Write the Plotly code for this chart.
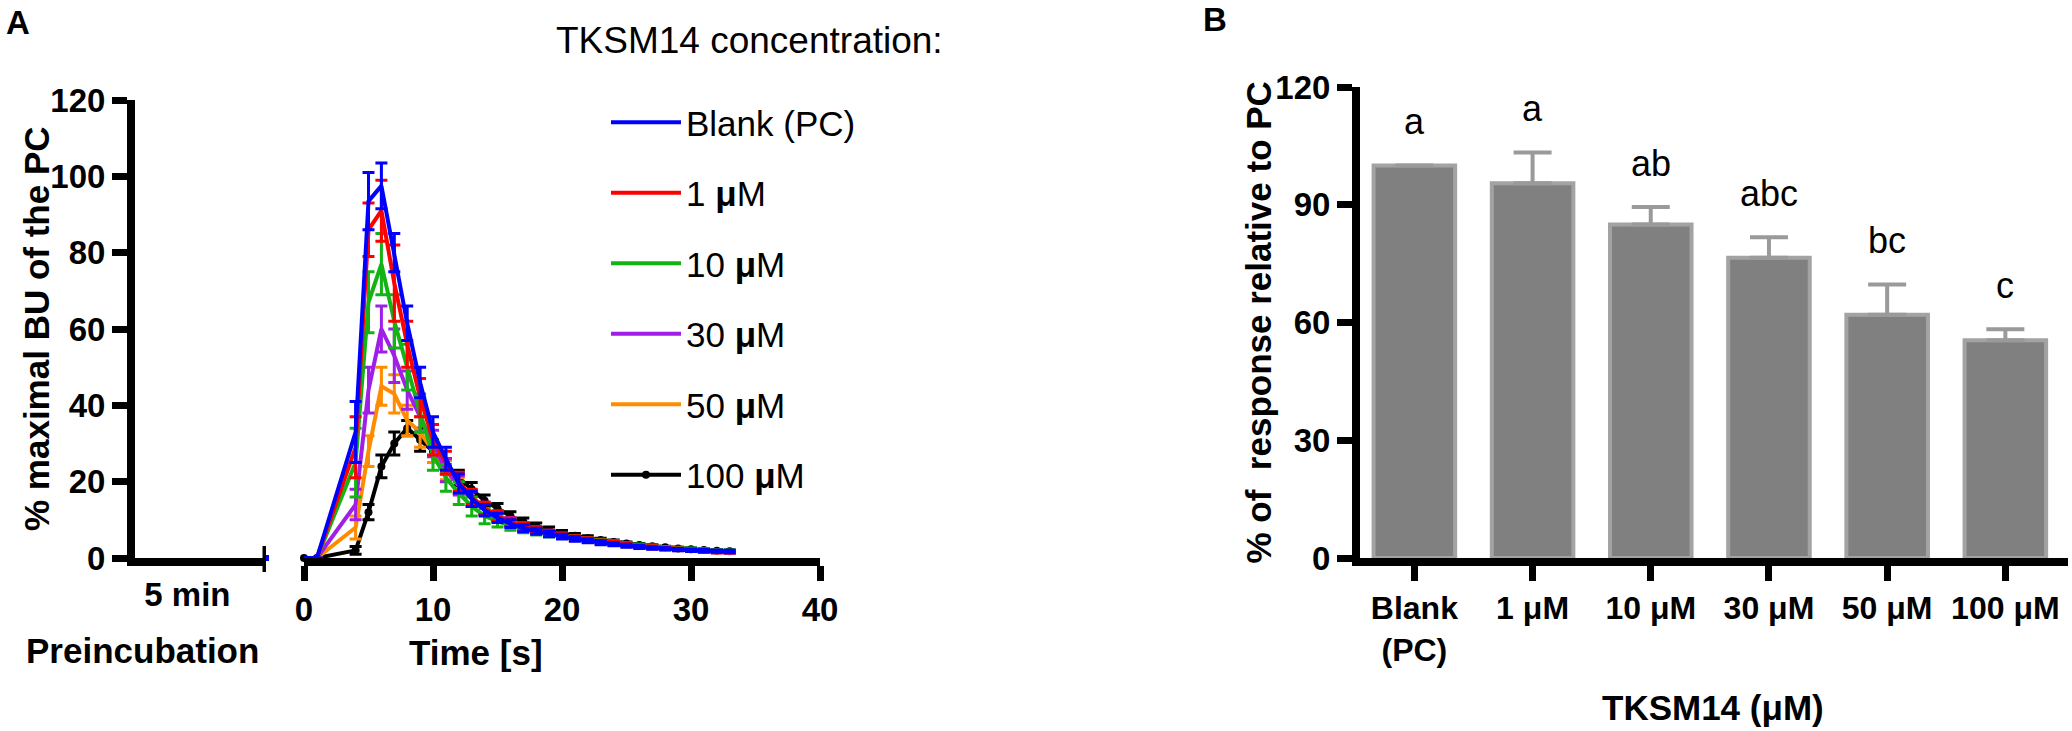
import plotly.graph_objects as go

W, H = 2072, 731
FONT = "Liberation Sans, Arial, sans-serif"

# ---------------- Panel A data ----------------
time_s = [0, 1, 4, 5, 6, 7, 8, 9, 10, 11, 12, 13, 14, 15, 16, 17, 18, 19,
          20, 21, 22, 23, 24, 25, 26, 27, 28, 29, 30, 31, 32, 33]

series_names = ["Blank (PC)", "1 <b>μ</b>M", "10 <b>μ</b>M", "30 <b>μ</b>M",
                "50 <b>μ</b>M", "100 <b>μ</b>M"]
series_colors = ["#0000ff", "#ff0000", "#12b312", "#a01ee6", "#ff8c00", "#000000"]

blank_mean = [0, 0, 33, 93.5, 97.5, 80, 61.5, 46, 33, 26, 19.5, 15.5, 12.5, 10.5, 9, 7.8,
              7, 6.3, 5.6, 5, 4.5, 4, 3.6, 3.2, 2.9, 2.6, 2.4, 2.2, 2, 1.9, 1.8, 1.7]
blank_err = [0, 0, 8, 7.5, 6, 5, 4.5, 4, 4, 3, 2.5, 2, 1.5, 1.2, 1, 0.9,
             0.8, 0.7, 0.6, 0.6, 0.5, 0.5, 0.4, 0.4, 0.4, 0.3, 0.3, 0.3, 0.3, 0.3, 0.3, 0.3]

um1_mean = [0, 0, 29, 86, 91, 72, 56, 42, 31, 25, 20, 16, 13, 11, 9.4, 8.2,
            7.3, 6.5, 5.8, 5.2, 4.7, 4.2, 3.8, 3.4, 3.1, 2.8, 2.5, 2.3, 2.1, 1.9, 1.7, 1.6]
um1_err = [0, 0, 8, 7, 8, 10, 6, 5, 4, 3, 2.5, 2, 1.6, 1.3, 1.1, 1,
           0.9, 0.8, 0.7, 0.6, 0.6, 0.5, 0.5, 0.4, 0.4, 0.4, 0.3, 0.3, 0.3, 0.3, 0.3, 0.3]

um10_mean = [0, 0, 25, 67, 77, 62, 50, 38, 27, 21, 17, 13.5, 11, 9.6, 8.5, 7.6,
             6.9, 6.3, 5.8, 5.3, 4.8, 4.4, 4, 3.6, 3.3, 3, 2.7, 2.5, 2.3, 2.1, 1.9, 1.8]
um10_err = [0, 0, 9, 8, 8, 7, 6, 5, 4, 3.5, 3, 2.5, 2, 1.5, 1.2, 1,
            0.9, 0.8, 0.7, 0.6, 0.6, 0.5, 0.5, 0.4, 0.4, 0.4, 0.3, 0.3, 0.3, 0.3, 0.3, 0.3]

um30_mean = [0, 0, 14, 44, 60, 53, 44, 37, 30, 23, 19, 15.5, 13, 11, 9.5, 8.3,
             7.3, 6.5, 5.8, 5.2, 4.7, 4.2, 3.8, 3.4, 3.1, 2.8, 2.5, 2.3, 2.1, 1.9, 1.7, 1.6]
um30_err = [0, 0, 4, 6, 6, 7, 5, 4, 3.5, 3, 2.5, 2, 1.6, 1.3, 1.1, 1,
            0.9, 0.8, 0.7, 0.6, 0.6, 0.5, 0.5, 0.4, 0.4, 0.4, 0.3, 0.3, 0.3, 0.3, 0.3, 0.3]

um50_mean = [0, 0, 8, 28, 45, 43, 36, 33, 28, 23, 19, 16, 13, 11, 9.5, 8.2,
             7.2, 6.4, 5.7, 5.1, 4.6, 4.1, 3.7, 3.3, 3, 2.7, 2.4, 2.2, 2, 1.8, 1.6, 1.5]
um50_err = [0, 0, 3, 4, 5, 5, 4, 4, 3, 2.5, 2, 1.8, 1.5, 1.2, 1, 0.9,
            0.8, 0.7, 0.6, 0.6, 0.5, 0.5, 0.4, 0.4, 0.4, 0.3, 0.3, 0.3, 0.3, 0.3, 0.3, 0.3]

um100_mean = [0, 0, 2, 12, 24, 30, 34, 31, 28, 24, 21, 18, 15, 13, 11, 9.5,
              8.3, 7.3, 6.5, 5.8, 5.2, 4.7, 4.2, 3.8, 3.4, 3.1, 2.8, 2.5, 2.3, 2.1, 1.9, 1.8]
um100_err = [0, 0, 1, 2, 3, 3, 2, 3, 3, 2, 2, 1.8, 1.5, 1.3, 1.1, 1,
             0.9, 0.8, 0.7, 0.6, 0.6, 0.5, 0.5, 0.4, 0.4, 0.4, 0.3, 0.3, 0.3, 0.3, 0.3, 0.3]

series_means = [blank_mean, um1_mean, um10_mean, um30_mean, um50_mean, um100_mean]
series_errs = [blank_err, um1_err, um10_err, um30_err, um50_err, um100_err]

pre_time = [-3]
pre_value = [0]

a_yticks = [0, 20, 40, 60, 80, 100, 120]
a_xticks = [0, 10, 20, 30, 40]
pre_tick = [-9]
pre_tick_text = ["5 min"]

# ---------------- Panel B data ----------------
b_categories = ["Blank<br>(PC)", "1 μM", "10 μM", "30 μM", "50 μM", "100 μM"]
b_values = [100, 95.5, 85, 76.5, 62, 55.5]
b_errors = [None, 7.8, 4.4, 5.2, 7.7, 2.8]
b_letters = ["a", "a", "ab", "abc", "bc", "c"]
b_yticks = [0, 30, 60, 90, 120]

# ---------------- Layout geometry ----------------
def px_x(x):
    return x / W

def px_y(y):
    return 1 - y / H

A_Y = [px_y(558), px_y(100)]
A_PRE_X = [px_x(135), px_x(266)]
A_MAIN_X = [px_x(304), px_x(820)]
B_X = [px_x(1360), px_x(2068)]
B_Y = [px_y(558), px_y(87)]

TICKFONT = dict(family=FONT, size=33, color="black", weight="bold")
AXIS_LW = 8
TICK_W = 7
TICK_LEN = 15

fig = go.Figure()

# Panel A curves (drawn so Blank ends on top)
for rank, (name, color, mean, err) in reversed(list(enumerate(zip(
        series_names, series_colors, series_means, series_errs)))):
    is_black = color == "#000000"
    fig.add_trace(go.Scatter(
        x=time_s, y=mean, name=name, legendgroup=name, legendrank=rank + 1,
        mode="lines+markers" if is_black else "lines",
        line=dict(color=color, width=4),
        marker=dict(color=color, size=8, symbol="circle"),
        error_y=dict(type="data", array=err, color=color, thickness=3, width=6),
        xaxis="x2", yaxis="y", cliponaxis=False,
    ))

# preincubation point
fig.add_trace(go.Scatter(
    x=pre_time, y=pre_value, mode="markers", showlegend=False,
    marker=dict(color="#0000ff", size=6, symbol="square"),
    xaxis="x", yaxis="y", cliponaxis=False,
))

# Panel B bars
fig.add_trace(go.Bar(
    x=list(range(len(b_categories))), y=b_values, width=0.69, showlegend=False,
    marker=dict(color="#808080", line=dict(color="#a3a3a3", width=4)),
    error_y=dict(type="data", symmetric=False, array=b_errors,
                 arrayminus=[0] * len(b_values), color="#9a9a9a",
                 thickness=4, width=19),
    xaxis="x3", yaxis="y2",
))

annotations = []
LETTER_OFFSET = 5.5
for i, (v, e, letter) in enumerate(zip(b_values, b_errors, b_letters)):
    top = v + (e if e else 0)
    annotations.append(dict(
        x=i, y=top + LETTER_OFFSET, xref="x3", yref="y2", text=letter,
        showarrow=False, yanchor="bottom",
        font=dict(family=FONT, size=36, color="black")))

# Panel letters & titles
annotations += [
    dict(x=px_x(4), y=px_y(22), xref="paper", yref="paper", text="<b>A</b>",
         showarrow=False, xanchor="left", yanchor="middle",
         font=dict(family=FONT, size=33, color="black")),
    dict(x=px_x(1215), y=px_y(20), xref="paper", yref="paper", text="<b>B</b>",
         showarrow=False, xanchor="center", yanchor="middle",
         font=dict(family=FONT, size=33, color="black")),
    dict(x=px_x(554), y=px_y(40), xref="paper", yref="paper",
         text="TKSM14 concentration:", showarrow=False, xanchor="left",
         yanchor="middle", font=dict(family=FONT, size=37, color="black")),
    dict(x=px_x(142), y=px_y(650), xref="paper", yref="paper",
         text="<b>Preincubation</b>", showarrow=False, xanchor="center",
         yanchor="middle", font=dict(family=FONT, size=35, color="black")),
    dict(x=px_x(476), y=px_y(652), xref="paper", yref="paper",
         text="<b>Time [s]</b>", showarrow=False, xanchor="center",
         yanchor="middle", font=dict(family=FONT, size=35, color="black")),
    dict(x=px_x(1713), y=px_y(707), xref="paper", yref="paper",
         text="<b>TKSM14 (μM)</b>", showarrow=False, xanchor="center",
         yanchor="middle", font=dict(family=FONT, size=35, color="black")),
    dict(x=px_x(37), y=(A_Y[0] + A_Y[1]) / 2, xref="paper", yref="paper",
         text="<b>% maximal BU of the PC</b>", showarrow=False, textangle=-90,
         xanchor="center", yanchor="middle",
         font=dict(family=FONT, size=35, color="black")),
    dict(x=px_x(1258), y=(B_Y[0] + B_Y[1]) / 2, xref="paper", yref="paper",
         text="<b>% of  response relative to PC</b>", showarrow=False,
         textangle=-90, xanchor="center", yanchor="middle",
         font=dict(family=FONT, size=35, color="black")),
]

# axis break mark on preincubation axis
shapes = [dict(type="line", xref="x", yref="paper", x0=-3, x1=-3,
               y0=A_Y[0] - 14 / H, y1=A_Y[0] + 12 / H,
               line=dict(color="black", width=7))]

axis_common = dict(showgrid=False, zeroline=False, showline=True,
                   linecolor="black", linewidth=AXIS_LW, ticks="outside",
                   tickcolor="black", tickwidth=TICK_W, ticklen=TICK_LEN,
                   tickfont=TICKFONT, automargin=False)

fig.update_layout(
    width=W, height=H, autosize=False,
    margin=dict(l=0, r=0, t=0, b=0),
    paper_bgcolor="white", plot_bgcolor="white",
    font=dict(family=FONT, color="black"),
    xaxis=dict(**{**axis_common, "ticks": ""}, domain=A_PRE_X, range=[-13, -3],
               anchor="y", tickmode="array", tickvals=pre_tick,
               ticktext=pre_tick_text),
    xaxis2=dict(**axis_common, domain=A_MAIN_X, range=[0, 40], anchor="y",
                tickmode="array", tickvals=a_xticks),
    yaxis=dict(**axis_common, domain=A_Y, range=[0, 120], anchor="x",
               tickmode="array", tickvals=a_yticks),
    xaxis3=dict(**{**axis_common, "tickfont": {**TICKFONT, "size": 32}},
                domain=B_X, range=[-0.46, 5.53], anchor="y2",
                tickmode="array", tickvals=list(range(len(b_categories))),
                ticktext=b_categories),
    yaxis2=dict(**axis_common, domain=B_Y, range=[0, 120], anchor="x3",
                tickmode="array", tickvals=b_yticks),
    legend=dict(x=px_x(606), xanchor="left", y=px_y(93), yanchor="top",
                font=dict(family=FONT, size=35, color="black"),
                bgcolor="rgba(0,0,0,0)", traceorder="grouped",
                tracegroupgap=22, itemwidth=70),
    annotations=annotations,
    shapes=shapes,
)

fig.write_html(
    "out.html",
    config={"displayModeBar": False},
    post_script="document.body.style.margin='0';"
                "document.body.style.overflow='hidden';",
)
